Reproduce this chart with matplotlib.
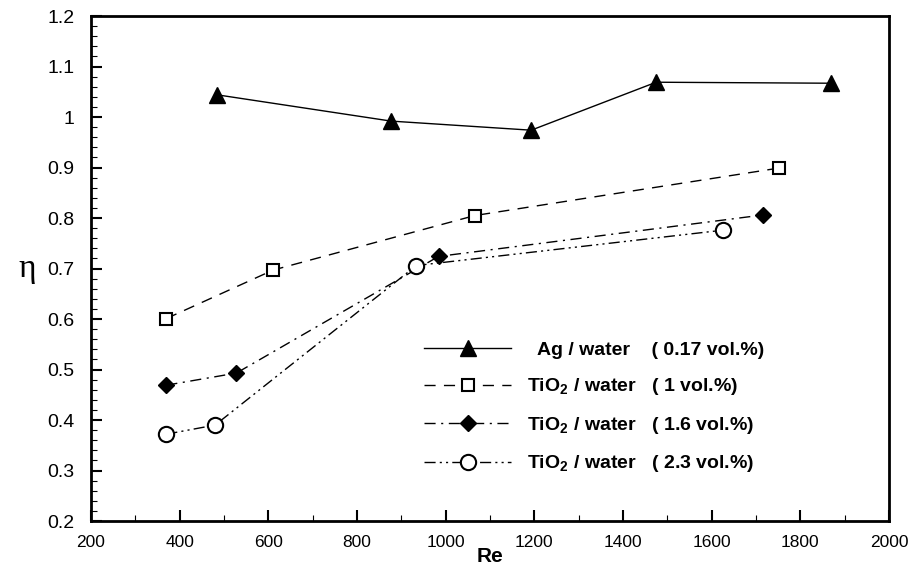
import matplotlib
matplotlib.use('Agg')
import matplotlib.pyplot as plt
from matplotlib.ticker import MultipleLocator

plt.rcParams['font.family'] = ['Liberation Sans', 'DejaVu Sans']
plt.rcParams['mathtext.fontset'] = 'custom'
plt.rcParams['mathtext.rm'] = 'Liberation Sans'
plt.rcParams['mathtext.bf'] = 'Liberation Sans:bold'

# Data
re_ag = [485, 877, 1193, 1475, 1870]
eta_ag = [1.044, 0.992, 0.974, 1.069, 1.067]

re_ti1 = [370, 611, 1066, 1752]
eta_ti1 = [0.601, 0.697, 0.805, 0.899]

re_ti16 = [370, 528, 984, 1715]
eta_ti16 = [0.469, 0.493, 0.724, 0.806]

re_ti23 = [370, 480, 934, 1626]
eta_ti23 = [0.372, 0.390, 0.706, 0.776]

labels = [r'  Ag / water    ( 0.17 vol.%)',
          r'TiO$_\mathbf{2}$ / water   ( 1 vol.%)',
          r'TiO$_\mathbf{2}$ / water   ( 1.6 vol.%)',
          r'TiO$_\mathbf{2}$ / water   ( 2.3 vol.%)']

fig = plt.figure(figsize=(9.08, 5.74), dpi=100)
ax = fig.add_axes([0.1002, 0.0923, 0.8788, 0.8797])

ax.plot(re_ag, eta_ag, color='black', lw=1.0, marker='^', ms=12,
        mfc='black', mec='black', label=labels[0])
ax.plot(re_ti1, eta_ti1, color='black', lw=1.0, ls=(0, (8, 6)), marker='s', ms=9,
        mfc='white', mec='black', mew=1.5, label=labels[1])
ax.plot(re_ti16, eta_ti16, color='black', lw=1.0, ls=(0, (8, 4, 1.5, 4)), marker='D', ms=8,
        mfc='black', mec='black', label=labels[2])
ax.plot(re_ti23, eta_ti23, color='black', lw=1.0, ls=(0, (8, 3, 1.5, 3, 1.5, 3)), marker='o', ms=11,
        mfc='white', mec='black', mew=1.5, label=labels[3])

ax.set_xlim(200, 2000)
ax.set_ylim(0.2, 1.2)
ax.xaxis.set_major_locator(MultipleLocator(200))
ax.xaxis.set_minor_locator(MultipleLocator(100))
ax.yaxis.set_minor_locator(MultipleLocator(0.02))
ax.set_yticks([0.2, 0.3, 0.4, 0.5, 0.6, 0.7, 0.8, 0.9, 1.0, 1.1, 1.2])
ax.set_yticklabels(['0.2', '0.3', '0.4', '0.5', '0.6', '0.7', '0.8', '0.9', '1', '1.1', '1.2'])

ax.tick_params(which='major', direction='in', length=8, width=1.5, labelsize=14)
ax.tick_params(axis='x', which='major', pad=10, labelsize=12.5)
ax.tick_params(axis='y', which='major', pad=12)
ax.tick_params(which='minor', direction='in', length=4, width=0.8)
for s in ax.spines.values():
    s.set_linewidth(2)

ax.set_xlabel('Re', fontsize=15, fontweight='bold', labelpad=-2)
ax.set_ylabel('η', fontsize=24, family=['Liberation Serif', 'DejaVu Serif'], rotation=0,
              labelpad=14, va='center')

leg = ax.legend(loc='upper left', bbox_to_anchor=(0.405, 0.375), frameon=False,
                prop={'weight': 'bold', 'size': 14}, handlelength=4.5,
                handletextpad=0.8, labelspacing=0.9, borderpad=0)

fig.savefig('out.png', dpi=100)
